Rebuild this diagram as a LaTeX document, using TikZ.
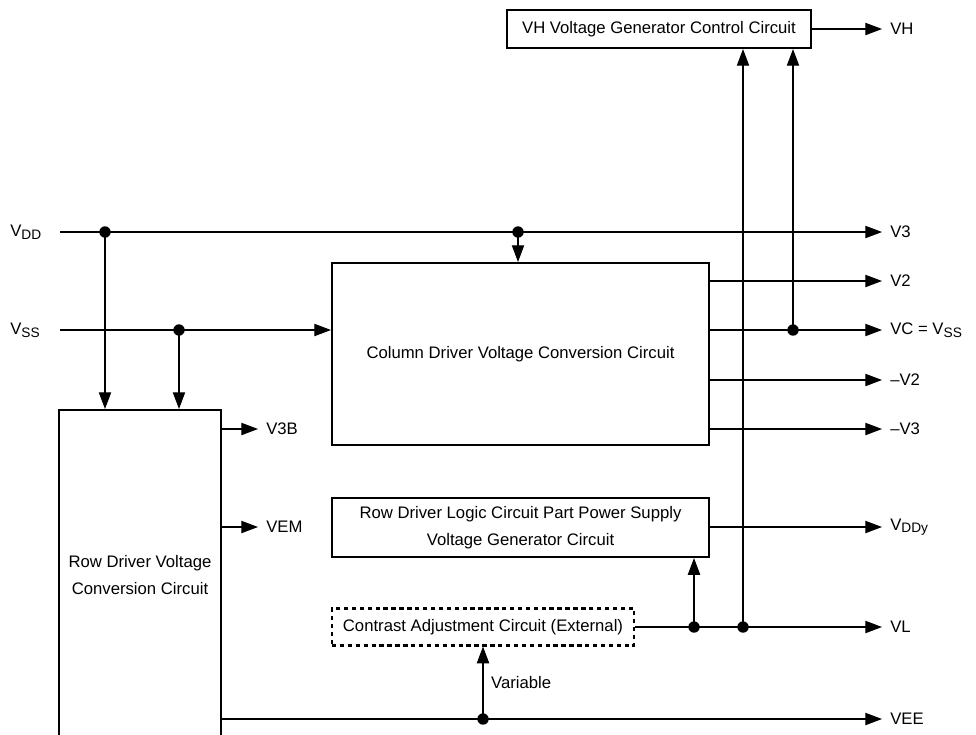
\documentclass[tikz,border=0pt]{standalone}
\usepackage{fontspec}
\setmainfont{Liberation Sans}
\usetikzlibrary{arrows.meta,positioning}

\newcommand{\lowsub}[1]{\raisebox{-0.3ex}{\fontsize{7.8}{8}\selectfont #1}}

\begin{document}
\begin{tikzpicture}[x=0.02cm, y=-0.02cm,
  font=\fontsize{9.5}{15}\selectfont,
  block/.style={draw, line width=1.2pt, inner sep=0pt, align=center},
  dashblock/.style={block, dash pattern=on 2.5pt off 2pt},
  wire/.style={line width=0.6pt},
  feed/.style={wire, -{Triangle[length=9.5pt,width=7pt]}},
  dot/.style={circle, fill, minimum size=6.5pt, inner sep=0pt},
  pin/.style={anchor=west, inner xsep=4.5pt, inner ysep=0pt},
  src/.style={anchor=west, inner sep=0pt}]
\useasboundingbox (0,0) rectangle (976,734);
\clip (0,0) rectangle (976,734);
% blocks
\node[block, minimum width=6.08cm, minimum height=0.76cm] (vhgen) at (659,29)
  {VH Voltage Generator Control Circuit};
\node[block, minimum width=7.54cm, minimum height=3.64cm] (coldrv) at (520.5,354)
  {Column Driver Voltage Conversion Circuit};
\node[block, minimum width=3.24cm, minimum height=6.6cm] (rowdrv) at (140,575)
  {Row Driver Voltage\\Conversion Circuit};
\node[block, minimum width=7.54cm, minimum height=1.18cm] (rowlogic) at (520.5,527.5)
  {Row Driver Logic Circuit Part Power Supply\\Voltage Generator Circuit};
\node[dashblock, minimum width=6.04cm, minimum height=0.74cm] (contrast) at (483,627)
  {Contrast Adjustment Circuit (External)};
% supply inputs
\node[src] (vdd) at (10,232) {V\lowsub{DD}};
\node[src] (vss) at (10,330) {V\lowsub{SS}};
\coordinate (vddin) at (60,232);
\coordinate (vssin) at (60,330);
% outputs on the right
\foreach \nm/\yy/\lbl in {vh/29/VH, vthree/232/V3, vtwo/281/V2, vc/330/{VC = V\lowsub{SS}},
    mvtwo/380/{--V2}, mvthree/429/{--V3}, vddy/527/{V\lowsub{DDy}}, vl/627/VL, vee/719/VEE}
  \node[pin] (\nm) at (882,\yy) {\lbl};
% outputs of the row driver
\node[pin] (vthreeb) at (258,429) {V3B};
\node[pin] (vem) at (258,527) {VEM};
% junctions
\coordinate (jvdda) at (105,232);
\coordinate (jvddb) at (518,232);
\coordinate (jvss) at (179,330);
\coordinate (jvc) at (793,330);
\coordinate (jvla) at (694,627);
\coordinate (jvlb) at (743,627);
\coordinate (jvee) at (483,719);
% wires
\draw[feed] (vhgen.east) -- (vh.west);
\draw[feed] (vddin) -- (vthree.west);
\draw[feed] (jvdda) -- (jvdda |- rowdrv.north);
\draw[feed] (jvddb) -- (jvddb |- coldrv.north);
\draw[feed] (vssin) -- (coldrv.west |- vssin);
\draw[feed] (jvss) -- (jvss |- rowdrv.north);
\foreach \nm in {vtwo, vc, mvtwo, mvthree}
  \draw[feed] (coldrv.east |- \nm) -- (\nm.west);
\draw[feed] (jvc) -- (jvc |- vhgen.south);
\draw[feed] (jvlb) -- (jvlb |- vhgen.south);
\draw[feed] (rowlogic.east |- vddy) -- (vddy.west);
\draw[feed] (contrast.east) -- (vl.west);
\draw[feed] (jvla) -- (jvla |- rowlogic.south);
\draw[feed] (rowdrv.east |- vthreeb) -- (vthreeb.west);
\draw[feed] (rowdrv.east |- vem) -- (vem.west);
\draw[feed] (rowdrv.east |- vee) -- (vee.west);
\draw[feed] (jvee) -- (jvee |- contrast.south)
  node[pos=0.5, right=1pt] (varlbl) {Variable};
\foreach \j in {jvdda, jvddb, jvss, jvc, jvla, jvlb, jvee}
  \node[dot] at (\j) {};
\end{tikzpicture}
\end{document}
